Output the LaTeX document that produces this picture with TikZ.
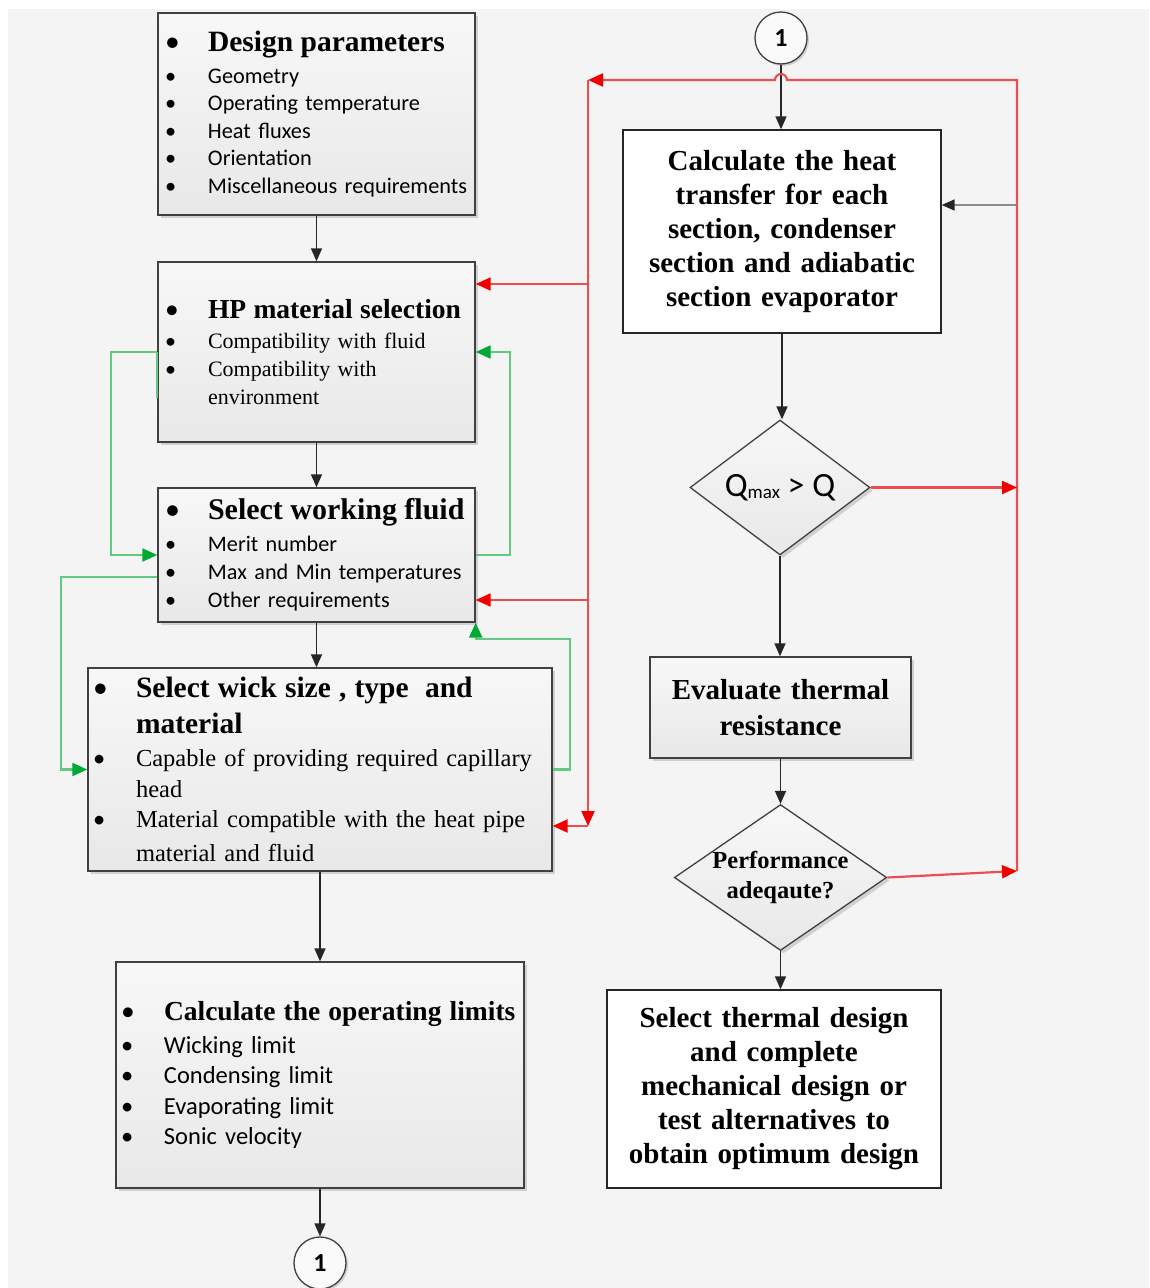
\documentclass[tikz,border=0pt]{standalone}
\usepackage{fontspec}
\setmainfont{Liberation Serif}
\newfontfamily\calib{Carlito}
\definecolor{bgpanel}{RGB}{244,244,244}
\definecolor{boxline}{RGB}{64,64,64}
\definecolor{hpred}{RGB}{236,78,80}
\definecolor{hpredtip}{RGB}{240,0,0}
\definecolor{hpgreen}{RGB}{100,200,130}
\definecolor{hpgreentip}{RGB}{0,170,50}
\usetikzlibrary{shapes.geometric,arrows.meta,positioning,shadows,calc}

\newcommand{\bhead}[2][28]{\makebox[43pt][l]{\calib\fontsize{#1}{#1}\selectfont\textbullet}\mbox{\fontsize{#1}{#1}\selectfont\bfseries #2}}
\newcommand{\bitem}[1]{\makebox[43pt][l]{\calib\textbullet}#1}
\newcommand{\bcont}[1]{\hspace*{43pt}{#1}}

\begin{document}
\begin{tikzpicture}[x=1pt, y=-1pt,
    gbox/.style={draw=boxline, line width=1.4pt, top color=black!3, bottom color=black!9,
        drop shadow={shadow xshift=3pt, shadow yshift=-3pt, opacity=0.3}, inner ysep=2pt, align=left},
    wbox/.style={draw=black!85, line width=1.4pt, fill=white, inner xsep=5pt, align=center,
        font=\fontsize{29}{34}\selectfont\bfseries},
    ddec/.style={diamond, draw=boxline, line width=1.3pt, top color=black!3, bottom color=black!9,
        drop shadow={shadow xshift=3pt, shadow yshift=-3pt, opacity=0.3}, inner sep=0pt, align=center},
    conn/.style={circle, draw=boxline, line width=1.3pt, fill=black!2, minimum size=52pt, inner sep=0pt,
        font=\calib\bfseries\fontsize{26}{26}\selectfont,
        drop shadow={shadow xshift=2pt, shadow yshift=-2pt, opacity=0.3}},
    arr/.style={-{Triangle[length=13pt,width=11pt]}, line width=1.6pt, black!85},
    redarr/.style={-{Triangle[length=15pt,width=13pt,color=hpredtip]}, line width=2.2pt, hpred},
    grnarr/.style={-{Triangle[length=15pt,width=13pt,color=hpgreentip]}, line width=2.2pt, hpgreen},
    grnline/.style={line width=2.2pt, hpgreen},
    grayarr/.style={-{Triangle[length=13pt,width=11pt,color=black!85]}, line width=2pt, black!45}]

    % Background
    \fill[white] (0,0) rectangle (1149,1288);
    \fill[bgpanel] (8,9) rectangle (1149,1288);
    \useasboundingbox (0,0) rectangle (1149,1288);

    % Left column
    \node[gbox, minimum width=317pt, minimum height=202pt, inner xsep=7pt, text width=303pt,
        font=\fontsize{22.3}{27.5}\selectfont] (desg) at (316.5,114)
        {\bhead[29.5]{Design parameters}\\[4pt]\calib
         \bitem{Geometry}\\\bitem{Operating temperature}\\\bitem{Heat fluxes}\\
         \bitem{Orientation}\\\bitem{Miscellaneous requirements}};
    \node[gbox, minimum width=317pt, minimum height=180pt, inner xsep=7pt, text width=303pt,
        font=\fontsize{22}{28}\selectfont] (hp) at (316.5,352)
        {\bhead[27.5]{HP material selection}\\[2pt]
         \bitem{Compatibility with fluid}\\\bitem{Compatibility with}\\\bcont{environment}};
    \node[gbox, minimum width=317pt, minimum height=134pt, inner xsep=7pt, text width=303pt,
        font=\fontsize{22.2}{28}\selectfont] (fluid) at (316.5,555)
        {\bhead[30]{Select working fluid}\\[4pt]\calib
         \bitem{Merit number}\\\bitem{Max and Min temperatures}\\\bitem{Other requirements}};
    \node[gbox, minimum width=464pt, minimum height=203pt, inner xsep=5pt, text width=454pt,
        font=\fontsize{24.5}{30.5}\selectfont] (wick) at (320,769.5)
        {\bhead[29.5]{Select wick size , type\ \ and}\\[5pt]
         \bcont{\fontsize{29.5}{29.5}\selectfont\bfseries material}\\[3pt]
         \bitem{Capable of providing required capillary}\\\bcont{head}\\
         \bitem{Material compatible with the heat pipe}\\[3pt]\bcont{material and fluid}};
    \node[gbox, minimum width=408pt, minimum height=226pt, inner xsep=5pt, text width=398pt,
        font=\fontsize{24.5}{30.5}\selectfont] (lim) at (320,1075)
        {\bhead[27.5]{Calculate the operating limits}\\[2.5pt]\calib
         \bitem{Wicking limit}\\\bitem{Condensing limit}\\\bitem{Evaporating limit}\\
         \bitem{Sonic velocity}};
    \node[conn] (c1bot) at (320,1263) {1};

    % Right column
    \node[conn] (c1top) at (781,38) {1};
    \node[wbox, minimum width=318pt, minimum height=203pt, text width=308pt] (calc) at (782,231.5)
        {Calculate the heat\\transfer for each\\section, condenser\\section and adiabatic\\section evaporator};
    \node[ddec, aspect=1.333, minimum width=180pt, minimum height=135pt,
        font=\calib\fontsize{34}{34}\selectfont] (qmax) at (780,487.5)
        {Q\raisebox{-2pt}{\fontsize{19}{19}\selectfont max} > Q};
    \node[gbox, align=center, minimum width=261pt, minimum height=101pt, inner xsep=5pt, text width=251pt,
        font=\fontsize{29}{36}\selectfont\bfseries] (evr) at (780.5,707.5)
        {Evaluate thermal\\resistance};
    \node[ddec, aspect=1.455, minimum width=211pt, minimum height=145pt,
        font=\fontsize{24.5}{30}\selectfont\bfseries] (perf) at (780.5,877.5)
        {Performance\\adeqaute?};
    \node[wbox, minimum width=334pt, minimum height=198pt, text width=324pt] (sel) at (774,1089)
        {Select thermal design\\and complete\\mechanical design or\\test alternatives to\\obtain optimum design};

    % Main flow
    \foreach \a/\b in {desg/hp, hp/fluid, fluid/wick, wick/lim, lim/c1bot,
                       c1top/calc, calc/qmax, qmax/evr, evr/perf, perf/sel} {
        \draw[arr] (\a.south) -- (\a.south |- \b.north);
    }

    % Red feedback lines
    \coordinate (rtr) at (1017,80);
    \coordinate (rtl) at (588,80);
    \coordinate (rbl) at (588,826);
    \coordinate (rb1) at (588,284);
    \coordinate (rb2) at (588,600);
    \coordinate (rp) at (1017,871);
    \coordinate (gin) at (1017,205);
    \draw[redarr] (rp) -- (rtr) -- ($(c1top.south |- rtr)+(6,0)$)
        arc[start angle=0, end angle=-180, radius=6] -- (rtl);
    \draw[redarr] (rtl) -- (rbl);
    \draw[redarr] (rbl) -- (rbl -| wick.east);
    \draw[redarr] (rb1) -- (rb1 -| hp.east);
    \draw[redarr] (rb2) -- (rb2 -| fluid.east);
    \draw[redarr] (qmax.east) -- (qmax.east -| rtr);
    \draw[redarr] (perf.east) -- (rp);
    \draw[grayarr] (gin) -- (gin -| calc.east);

    % Green loops
    \draw[grnline] (hp.west) -- ++(0,46);
    \draw[grnarr] (hp.west) -- ++(-46,0) |- (fluid.west);
    \draw[grnarr] (fluid.east) -- ++(34,0) |- (hp.east);
    \draw[grnarr] ([yshift=-22pt]fluid.west) -- ++(-96,0) |- (wick.west);
    \draw[grnarr] (wick.east) -- ++(17,0) |- ([yshift=-16pt]fluid.south east) -- (fluid.south east);
\end{tikzpicture}
\end{document}
